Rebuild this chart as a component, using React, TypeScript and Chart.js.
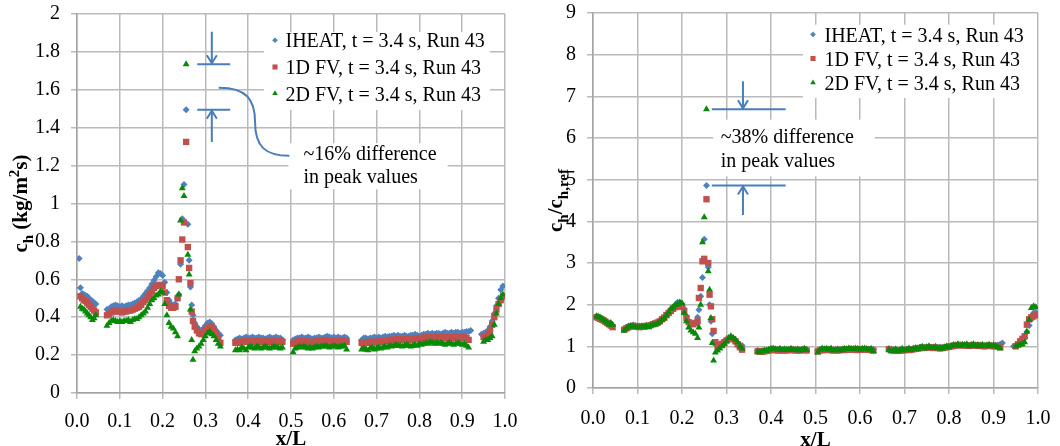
import React, { useEffect, useRef } from 'react';
import { Chart, registerables } from 'chart.js';

Chart.register(...registerables);

// ---------------- DATA ----------------
// x/L positions shared by all series
const X_POS: number[] = [
  0.005, 0.008, 0.012, 0.016, 0.02, 0.024, 0.028, 0.032, 0.036, 0.04, 0.044,
  0.07, 0.075, 0.08, 0.085, 0.09, 0.095, 0.1, 0.105, 0.11, 0.115, 0.12, 0.125, 0.13, 0.135, 0.14, 0.145, 0.15, 0.155, 0.16, 0.165, 0.17, 0.175, 0.18, 0.185, 0.19, 0.195, 0.2, 0.205, 0.21, 0.215, 0.22, 0.225, 0.23,
  0.235, 0.238, 0.242, 0.246, 0.25, 0.255, 0.259, 0.262, 0.265, 0.268, 0.271, 0.275,
  0.28, 0.285, 0.29, 0.295, 0.3, 0.305, 0.31, 0.315, 0.32, 0.325, 0.33, 0.335,
  0.37, 0.375, 0.38, 0.385, 0.39, 0.395, 0.4, 0.405, 0.41, 0.415, 0.42, 0.425, 0.43, 0.435, 0.44, 0.445, 0.45, 0.455, 0.46, 0.465, 0.47, 0.475, 0.48,
  0.505, 0.51, 0.515, 0.52, 0.525, 0.53, 0.535, 0.54, 0.545, 0.55, 0.555, 0.56, 0.565, 0.57, 0.575, 0.58, 0.585, 0.59, 0.595, 0.6, 0.605, 0.61, 0.615, 0.62, 0.625, 0.63,
  0.665, 0.67, 0.675, 0.68, 0.685, 0.69, 0.695, 0.7, 0.705, 0.71,
  0.715, 0.72, 0.725, 0.73, 0.735, 0.74, 0.745, 0.75, 0.755, 0.76,
  0.765, 0.77, 0.775, 0.78, 0.785, 0.79, 0.795, 0.8, 0.805, 0.81,
  0.815, 0.82, 0.825, 0.83, 0.835, 0.84, 0.845, 0.85, 0.855, 0.86,
  0.865, 0.87, 0.875, 0.88, 0.885, 0.89, 0.895, 0.9, 0.905, 0.91,
  0.915, 0.92,
  0.945, 0.95, 0.955, 0.96, 0.965, 0.97, 0.975, 0.98, 0.985, 0.99, 0.995,
];

// Left chart: c_h (kg/m^2 s)
const IHEAT_CH: (number | null)[] = [
  0.71, 0.555, 0.525, 0.52, 0.515, 0.51, 0.5, 0.49, 0.485, 0.475, 0.47,
  0.44, 0.445, 0.455, 0.46, 0.465, 0.46, 0.455, 0.46, 0.455, 0.46, 0.465, 0.465, 0.47, 0.475, 0.48, 0.49, 0.495, 0.51, 0.525, 0.54, 0.555, 0.575, 0.595, 0.615, 0.635, 0.63, 0.62, 0.585, 0.53, 0.49, 0.47, 0.465, 0.47,
  0.5, 0.52, 0.68, 0.92, 1.1, 1.495, 0.89, 0.7, 0.56, 0.465, 0.41, 0.37,
  0.35, 0.335, 0.33, 0.34, 0.355, 0.37, 0.375, 0.365, 0.35, 0.33, 0.315, 0.305,
  0.28, 0.285, 0.29, 0.285, 0.29, 0.295, 0.29, 0.29, 0.295, 0.29, 0.29, 0.295, 0.29, 0.29, 0.285, 0.29, 0.295, 0.29, 0.29, 0.295, 0.29, 0.29, 0.28,
  0.28, 0.285, 0.29, 0.29, 0.295, 0.29, 0.29, 0.295, 0.29, 0.285, 0.29, 0.29, 0.295, 0.29, 0.29, 0.295, 0.3, 0.295, 0.29, 0.295, 0.29, 0.295, 0.29, 0.29, 0.295, 0.29,
  0.28, 0.29, 0.29, 0.285, 0.29, 0.29, 0.295, 0.29, 0.295, 0.29,
  0.295, 0.3, 0.295, 0.3, 0.3, 0.305, 0.3, 0.305, 0.3, 0.3,
  0.305, 0.3, 0.3, 0.305, 0.305, 0.31, 0.305, 0.3, 0.305, 0.31,
  0.31, 0.315, 0.31, 0.315, 0.31, 0.315, 0.315, 0.31, 0.315, 0.32,
  0.315, 0.315, 0.32, 0.315, 0.32, 0.32, 0.315, 0.32, 0.32, 0.325,
  0.325, 0.33,
  0.31, 0.315, 0.32, 0.33, 0.35, 0.38, 0.42, 0.46, 0.5, 0.545, 0.565,
];

const FV1D_CH: (number | null)[] = [
  null, 0.51, 0.5, 0.49, 0.485, 0.475, 0.465, 0.455, 0.445, 0.435, 0.425,
  0.41, 0.415, 0.425, 0.43, 0.435, 0.43, 0.43, 0.425, 0.43, 0.43, 0.435, 0.435, 0.44, 0.445, 0.45, 0.455, 0.465, 0.48, 0.49, 0.505, 0.52, 0.535, 0.555, 0.565, 0.57, 0.57, 0.565, 0.53, 0.49, 0.46, 0.45, 0.45, 0.455,
  0.5, 0.6, 0.7, 0.81, 0.9, 1.325, 0.77, 0.66, 0.58, 0.43, 0.38, 0.35,
  0.33, 0.315, 0.31, 0.315, 0.33, 0.345, 0.35, 0.345, 0.33, 0.31, 0.29, 0.265,
  0.265, 0.27, 0.265, 0.27, 0.275, 0.27, 0.27, 0.275, 0.27, 0.275, 0.27, 0.27, 0.275, 0.27, 0.27, 0.275, 0.27, 0.27, 0.275, 0.27, 0.27, 0.275, 0.27,
  0.26, 0.265, 0.27, 0.275, 0.27, 0.27, 0.275, 0.27, 0.265, 0.265, 0.27, 0.275, 0.27, 0.27, 0.275, 0.28, 0.275, 0.27, 0.275, 0.27, 0.275, 0.27, 0.275, 0.27, 0.275, 0.27,
  0.265, 0.26, 0.265, 0.27, 0.265, 0.27, 0.27, 0.265, 0.27, 0.275,
  0.27, 0.275, 0.28, 0.275, 0.28, 0.28, 0.285, 0.28, 0.28, 0.285,
  0.28, 0.285, 0.28, 0.285, 0.28, 0.285, 0.29, 0.285, 0.29, 0.29,
  0.295, 0.29, 0.295, 0.29, 0.295, 0.29, 0.295, 0.295, 0.29, 0.295,
  0.29, 0.295, 0.29, 0.295, 0.29, 0.29, 0.295, 0.29, 0.295, 0.29,
  0.28, null,
  null, 0.295, 0.3, 0.31, 0.33, 0.36, 0.4, 0.44, 0.47, 0.49, 0.51,
];

const FV2D_CH: (number | null)[] = [
  null, 0.455, 0.445, 0.44, 0.43, 0.42, 0.41, 0.4, 0.385, 0.395, 0.41,
  0.355, 0.37, 0.38, 0.385, 0.38, 0.375, 0.38, 0.375, 0.38, 0.38, 0.385, 0.375, 0.385, 0.39, 0.39, 0.4, 0.41, 0.42, 0.43, 0.45, 0.47, 0.49, 0.5, 0.515, 0.52, 0.535, 0.53, 0.47, 0.41, 0.37, 0.35, 0.34, 0.32,
  0.3, 0.52, 0.91, 1.08, 1.04, 1.735, 0.73, 0.625, 0.44, 0.28, 0.175, 0.22,
  0.235, 0.245, 0.26, 0.28, 0.3, 0.315, 0.325, 0.31, 0.3, 0.28, 0.26, 0.245,
  0.225, 0.23, 0.225, 0.24, 0.235, 0.225, 0.24, 0.245, 0.24, 0.235, 0.245, 0.24, 0.235, 0.24, 0.245, 0.24, 0.235, 0.24, 0.245, 0.24, 0.24, 0.235, 0.24,
  0.215, 0.235, 0.24, 0.245, 0.24, 0.245, 0.24, 0.235, 0.24, 0.235, 0.24, 0.245, 0.24, 0.245, 0.245, 0.25, 0.245, 0.24, 0.245, 0.25, 0.245, 0.24, 0.245, 0.245, 0.25, 0.23,
  0.23, 0.235, 0.23, 0.225, 0.235, 0.24, 0.23, 0.235, 0.24, 0.235,
  0.24, 0.245, 0.24, 0.25, 0.245, 0.25, 0.255, 0.25, 0.25, 0.245,
  0.25, 0.255, 0.25, 0.245, 0.25, 0.255, 0.25, 0.26, 0.255, 0.26,
  0.265, 0.26, 0.27, 0.265, 0.26, 0.265, 0.26, 0.265, 0.26, 0.255,
  0.26, 0.265, 0.26, 0.255, 0.26, 0.265, 0.26, 0.255, 0.26, 0.25,
  0.24, null,
  null, 0.27, 0.28, 0.28, 0.29, 0.3, 0.36, 0.42, 0.47, 0.5, 0.52,
];

// Right chart: c_h / c_h,ref
const IHEAT_RATIO: (number | null)[] = [
  null, 1.72, 1.7, 1.68, 1.66, 1.63, 1.6, 1.58, 1.55, 1.52, 1.5,
  1.42, 1.45, 1.48, 1.49, 1.51, 1.5, 1.48, 1.49, 1.47, 1.48, 1.5, 1.5, 1.52, 1.54, 1.56, 1.58, 1.61, 1.66, 1.71, 1.76, 1.82, 1.88, 1.94, 2.0, 2.06, 2.05, 2.02, 1.9, 1.72, 1.6, 1.55, 1.54, 1.58,
  1.7, 1.88, 2.2, 2.65, 3.57, 4.86, 2.9, 2.0, 1.6, 1.3, 1.1, 1.05,
  1.02, 1.05, 1.08, 1.12, 1.16, 1.2, 1.22, 1.18, 1.13, 1.08, 1.03, 1.02,
  0.9, 0.89, 0.88, 0.89, 0.9, 0.91, 0.92, 0.93, 0.92, 0.93, 0.92, 0.91, 0.92, 0.91, 0.92, 0.93, 0.92, 0.91, 0.92, 0.91, 0.92, 0.93, 0.91,
  0.9, 0.91, 0.92, 0.93, 0.92, 0.93, 0.92, 0.91, 0.92, 0.91, 0.92, 0.93, 0.92, 0.93, 0.94, 0.93, 0.94, 0.93, 0.92, 0.93, 0.94, 0.93, 0.94, 0.93, 0.92, 0.93,
  0.95, 0.93, 0.92, 0.92, 0.91, 0.92, 0.91, 0.92, 0.93, 0.92,
  0.93, 0.94, 0.95, 0.96, 0.97, 0.98, 0.97, 0.98, 0.99, 0.98,
  0.97, 0.98, 0.97, 0.96, 0.97, 0.98, 0.99, 1.0, 1.01, 1.02,
  1.03, 1.04, 1.04, 1.03, 1.04, 1.03, 1.02, 1.03, 1.04, 1.03,
  1.02, 1.03, 1.02, 1.01, 1.02, 1.03, 1.02, 1.01, 1.02, 1.03,
  1.05, 1.08,
  1.0, 1.01, 1.03, 1.06, 1.1, 1.2, 1.35, 1.5, 1.65, 1.8, 1.82,
];

const FV1D_RATIO: (number | null)[] = [
  null, 1.7, 1.68, 1.66, 1.64, 1.62, 1.59, 1.56, 1.53, 1.5, 1.46,
  1.4, 1.43, 1.46, 1.48, 1.49, 1.48, 1.47, 1.46, 1.47, 1.47, 1.49, 1.49, 1.51, 1.53, 1.55, 1.57, 1.6, 1.65, 1.69, 1.75, 1.8, 1.85, 1.9, 1.94, 1.96, 1.97, 1.95, 1.83, 1.68, 1.58, 1.54, 1.53, 1.56,
  1.6, 2.16, 2.4, 3.04, 3.1, 4.53, 3.0, 2.24, 1.96, 1.65, 1.37, 1.1,
  1.0, 1.03, 1.06, 1.1, 1.14, 1.18, 1.2, 1.17, 1.12, 1.05, 0.98, 0.92,
  0.88, 0.87, 0.87, 0.88, 0.89, 0.9, 0.91, 0.92, 0.91, 0.9, 0.91, 0.9, 0.91, 0.9, 0.91, 0.92, 0.91, 0.9, 0.91, 0.9, 0.91, 0.92, 0.9,
  0.88, 0.9, 0.91, 0.92, 0.91, 0.92, 0.91, 0.9, 0.91, 0.9, 0.91, 0.92, 0.91, 0.92, 0.93, 0.92, 0.93, 0.92, 0.91, 0.92, 0.93, 0.92, 0.93, 0.92, 0.91, 0.9,
  0.93, 0.91, 0.9, 0.9, 0.89, 0.9, 0.9, 0.91, 0.92, 0.91,
  0.92, 0.93, 0.94, 0.95, 0.96, 0.97, 0.96, 0.97, 0.98, 0.97,
  0.96, 0.97, 0.96, 0.95, 0.96, 0.97, 0.98, 0.99, 1.0, 1.01,
  1.02, 1.03, 1.03, 1.02, 1.03, 1.02, 1.01, 1.02, 1.03, 1.02,
  1.01, 1.02, 1.01, 1.0, 1.01, 1.02, 1.01, 1.0, 1.01, 1.0,
  0.98, null,
  null, 1.0, 1.05, 1.12, 1.18, 1.24, 1.52, 1.65, 1.7, 1.72, 1.75,
];

const FV2D_RATIO: (number | null)[] = [
  null, 1.72, 1.71, 1.69, 1.66, 1.63, 1.6, 1.57, 1.52, 1.56, 1.52,
  1.38, 1.43, 1.47, 1.49, 1.48, 1.46, 1.47, 1.46, 1.48, 1.47, 1.49, 1.46, 1.5, 1.51, 1.52, 1.55, 1.59, 1.63, 1.67, 1.74, 1.82, 1.9, 1.94, 1.99, 2.01, 2.05, 2.03, 1.8, 1.6, 1.45, 1.38, 1.34, 1.3,
  1.2, 1.45, 2.0, 3.5, 4.1, 6.69, 2.8, 2.36, 1.68, 1.08, 0.66, 0.85,
  0.9, 0.95, 1.0, 1.05, 1.12, 1.2, 1.24, 1.2, 1.16, 1.1, 1.0, 0.95,
  0.87, 0.86, 0.88, 0.9, 0.89, 0.92, 0.94, 0.95, 0.93, 0.92, 0.94, 0.91, 0.93, 0.92, 0.91, 0.94, 0.92, 0.91, 0.93, 0.9, 0.92, 0.94, 0.91,
  0.85, 0.92, 0.95, 0.93, 0.94, 0.92, 0.95, 0.9, 0.91, 0.93, 0.9, 0.92, 0.94, 0.93, 0.95, 0.94, 0.93, 0.95, 0.94, 0.92, 0.94, 0.95, 0.93, 0.92, 0.94, 0.88,
  0.92, 0.88, 0.9, 0.93, 0.88, 0.91, 0.94, 0.9, 0.92, 0.95,
  0.91, 0.94, 0.96, 0.93, 0.97, 0.99, 0.95, 0.98, 1.0, 0.96,
  0.97, 0.99, 0.95, 0.97, 0.94, 0.98, 1.0, 0.97, 1.01, 1.03,
  1.02, 1.05, 1.01, 1.04, 1.02, 1.05, 1.0, 1.03, 1.05, 1.01,
  1.03, 1.0, 1.04, 1.01, 1.02, 1.04, 1.0, 1.03, 1.01, 0.98,
  0.95, null,
  null, 1.0, 1.02, 1.04, 1.05, 1.1, 1.35, 1.64, 1.92, 1.96, 1.94,
];

const SERIES_LABELS = ['IHEAT, t = 3.4 s, Run 43', '1D FV, t = 3.4 s, Run 43', '2D FV, t = 3.4 s, Run 43'];
const X_TICK_LABELS = ['0.0', '0.1', '0.2', '0.3', '0.4', '0.5', '0.6', '0.7', '0.8', '0.9', '1.0'];
const Y_TICKS_CH = ['0', '0.2', '0.4', '0.6', '0.8', '1', '1.2', '1.4', '1.6', '1.8', '2'];
const Y_TICKS_RATIO = ['0', '1', '2', '3', '4', '5', '6', '7', '8', '9'];
const NOTE_CH = ['~16% difference', 'in peak values'];
const NOTE_RATIO = ['~38% difference', 'in peak values'];

// ---------------- STYLE ----------------
const FONT = '"Liberation Serif", "Times New Roman", serif';
const COLORS = ['#4f81bd', '#c0504d', '#078a07'];
const SHAPES = ['rectRot', 'rect', 'triangle'];
const RADII = [3.5, 4.5, 4];
const GRID = '#bababa';
const AXIS = '#a3a3a3';
const ANNOT = '#4a7ebb';

type Seg = { t: string; k: 'n' | 'sub' | 'sup' };

type Overlay = {
  legend: { dxFromRight: number; dyFromTop: number; w: number; h: number; markerDx: number; textDx: number; rows: number[] };
  lineX: [number, number];
  arrowX: number;
  topFrom: number;
  bottomFrom: number;
  box: [number, number, number, number];
  textX: number;
  textY: [number, number];
  note: string[];
  bracket?: number[][];
  yTitle: Seg[];
  yTitleX: number;
  xTitleY: number;
};

function maxOf(a: (number | null)[]) {
  let m = -Infinity;
  for (const v of a) if (v !== null && v > m) m = v;
  return m;
}

function drawMarker(ctx: CanvasRenderingContext2D, shape: string, x: number, y: number, r: number, color: string) {
  ctx.save();
  ctx.fillStyle = color;
  ctx.beginPath();
  if (shape === 'rectRot') {
    ctx.moveTo(x - r, y);
    ctx.lineTo(x, y - r);
    ctx.lineTo(x + r, y);
    ctx.lineTo(x, y + r);
  } else if (shape === 'rect') {
    const s = r * Math.SQRT1_2;
    ctx.rect(x - s, y - s, 2 * s, 2 * s);
  } else {
    let a = 0;
    ctx.moveTo(x + Math.sin(a) * r, y - Math.cos(a) * r);
    a += (2 * Math.PI) / 3;
    ctx.lineTo(x + Math.sin(a) * r, y - Math.cos(a) * r);
    a += (2 * Math.PI) / 3;
    ctx.lineTo(x + Math.sin(a) * r, y - Math.cos(a) * r);
  }
  ctx.closePath();
  ctx.fill();
  ctx.restore();
}

function drawRich(ctx: CanvasRenderingContext2D, segs: Seg[], cx: number, cy: number, size: number, rotate: boolean) {
  const big = `bold ${size}px ${FONT}`;
  const small = `bold ${Math.round(size * 0.72)}px ${FONT}`;
  const widths = segs.map((s) => {
    ctx.font = s.k === 'n' ? big : small;
    return ctx.measureText(s.t).width;
  });
  const total = widths.reduce((p, c) => p + c, 0);
  ctx.save();
  ctx.translate(cx, cy);
  if (rotate) ctx.rotate(-Math.PI / 2);
  ctx.fillStyle = '#000';
  ctx.textAlign = 'left';
  ctx.textBaseline = 'alphabetic';
  let x = -total / 2;
  const base = size * 0.32;
  segs.forEach((s, i) => {
    ctx.font = s.k === 'n' ? big : small;
    const dy = s.k === 'sub' ? size * 0.28 : s.k === 'sup' ? -size * 0.38 : 0;
    ctx.fillText(s.t, x, base + dy);
    x += widths[i];
  });
  ctx.restore();
}

function makeOverlay(o: Overlay, topSeries: (number | null)[], bottomSeries: (number | null)[]) {
  return {
    id: 'overlay',
    beforeDatasetsDraw(chart: any) {
      const { ctx, chartArea: a, scales } = chart;
      const xs = scales.x, ys = scales.y;
      ctx.save();
      ctx.fillStyle = '#ffffff';
      const L = o.legend;
      ctx.fillRect(a.right - L.dxFromRight, a.top + L.dyFromTop, L.w, L.h);
      const px0 = xs.getPixelForValue(o.box[0]);
      const px1 = xs.getPixelForValue(o.box[1]);
      const py0 = ys.getPixelForValue(o.box[2]);
      const py1 = ys.getPixelForValue(o.box[3]);
      ctx.fillRect(px0, py0, px1 - px0, py1 - py0);
      ctx.restore();
    },
    afterDatasetsDraw(chart: any) {
      const { ctx, chartArea: a, scales } = chart;
      const xs = scales.x, ys = scales.y;
      const L = o.legend;
      const lx = a.right - L.dxFromRight;
      const ly = a.top + L.dyFromTop;
      ctx.save();
      ctx.font = `20px ${FONT}`;
      ctx.fillStyle = '#000';
      ctx.textAlign = 'left';
      ctx.textBaseline = 'middle';
      SERIES_LABELS.forEach((lab, i) => {
        const ry = ly + L.rows[i];
        drawMarker(ctx, SHAPES[i], lx + L.markerDx, ry - 2, RADII[i] * 0.8, COLORS[i]);
        ctx.fillStyle = '#000';
        ctx.fillText(lab, lx + L.textDx, ry);
      });

      // annotation lines and arrows
      ctx.strokeStyle = ANNOT;
      ctx.lineWidth = 2;
      ctx.lineCap = 'butt';
      const x0 = xs.getPixelForValue(o.lineX[0]);
      const x1 = xs.getPixelForValue(o.lineX[1]);
      const ax = xs.getPixelForValue(o.arrowX);
      const yTop = ys.getPixelForValue(maxOf(topSeries));
      const yBot = ys.getPixelForValue(maxOf(bottomSeries));
      const yTopFrom = ys.getPixelForValue(o.topFrom);
      const yBotFrom = ys.getPixelForValue(o.bottomFrom);
      ctx.beginPath();
      ctx.moveTo(x0, yTop); ctx.lineTo(x1, yTop);
      ctx.moveTo(x0, yBot); ctx.lineTo(x1, yBot);
      ctx.moveTo(ax, yTopFrom); ctx.lineTo(ax, yTop - 1);
      ctx.moveTo(ax, yBotFrom); ctx.lineTo(ax, yBot + 1);
      ctx.stroke();
      ctx.beginPath();
      ctx.moveTo(ax - 5, yTop - 9); ctx.lineTo(ax, yTop - 1); ctx.lineTo(ax + 5, yTop - 9);
      ctx.moveTo(ax - 5, yBot + 9); ctx.lineTo(ax, yBot + 1); ctx.lineTo(ax + 5, yBot + 9);
      ctx.stroke();

      if (o.bracket) {
        const p = o.bracket.map(([bx, by]) => [xs.getPixelForValue(bx), ys.getPixelForValue(by)]);
        ctx.beginPath();
        ctx.moveTo(p[0][0], p[0][1]);
        ctx.bezierCurveTo(p[1][0], p[1][1], p[2][0], p[2][1], p[3][0], p[3][1]);
        ctx.bezierCurveTo(p[4][0], p[4][1], p[5][0], p[5][1], p[6][0], p[6][1]);
        ctx.stroke();
      }

      ctx.fillStyle = '#000';
      ctx.font = `20px ${FONT}`;
      ctx.textBaseline = 'middle';
      const tx = xs.getPixelForValue(o.textX);
      o.note.forEach((line, i) => {
        ctx.fillText(line, tx, ys.getPixelForValue(o.textY[i]));
      });
      ctx.restore();
    },
    afterDraw(chart: any) {
      const { ctx, chartArea: a } = chart;
      drawRich(ctx, o.yTitle, o.yTitleX, (a.top + a.bottom) / 2, 21, true);
      drawRich(ctx, [{ t: 'x/L', k: 'n' }], (a.left + a.right) / 2, o.xTitleY, 21, false);
    },
  };
}

function makeConfig(
  series: (number | null)[][],
  yTicks: string[],
  yMax: number,
  yStep: number,
  pad: { top: number; right: number },
  yWidth: number,
  xHeight: number,
  xPad: number,
  overlay: any
) {
  return {
    type: 'scatter',
    data: {
      datasets: series.map((ys, i) => ({
        label: SERIES_LABELS[i],
        data: X_POS.map((x, j) => ({ x, y: ys[j] })).filter((p) => p.y !== null),
        pointStyle: SHAPES[i],
        pointRadius: RADII[i],
        pointHoverRadius: RADII[i],
        pointBackgroundColor: COLORS[i],
        pointBorderColor: COLORS[i],
        pointBorderWidth: 0,
        backgroundColor: COLORS[i],
        borderColor: COLORS[i],
        borderWidth: 0,
        showLine: false,
        order: 2 - i,
      })),
    },
    options: {
      responsive: false,
      animation: false,
      devicePixelRatio: 1,
      events: [],
      layout: { padding: { top: pad.top, right: pad.right, left: 0, bottom: 0 } },
      plugins: { legend: { display: false }, tooltip: { enabled: false }, title: { display: false } },
      scales: {
        x: {
          type: 'linear',
          min: 0,
          max: 1,
          afterFit: (s: any) => {
            s.height = xHeight;
            s.paddingLeft = 0;
            s.paddingRight = 0;
          },
          ticks: {
            stepSize: 0.1,
            autoSkip: false,
            maxRotation: 0,
            padding: xPad,
            color: '#000',
            font: { family: FONT, size: 20 },
            callback: (_v: any, i: number) => X_TICK_LABELS[i],
          },
          grid: { color: GRID, lineWidth: 1.5, tickLength: 6 },
          border: { color: AXIS, width: 1.5 },
        },
        y: {
          type: 'linear',
          min: 0,
          max: yMax,
          afterFit: (s: any) => {
            s.width = yWidth;
            s.paddingTop = 0;
            s.paddingBottom = 0;
          },
          ticks: {
            stepSize: yStep,
            autoSkip: false,
            padding: 11,
            color: '#000',
            font: { family: FONT, size: 20 },
            callback: (_v: any, i: number) => yTicks[i],
          },
          grid: { color: GRID, lineWidth: 1.5, tickLength: 6 },
          border: { color: AXIS, width: 1.5 },
        },
      },
    },
    plugins: [overlay],
  };
}

const LEFT_OVERLAY: Overlay = {
  legend: { dxFromRight: 241, dyFromTop: 18, w: 226, h: 78, markerDx: 11, textDx: 21.5, rows: [10.2, 37, 63.5] },
  lineX: [0.281, 0.358],
  arrowX: 0.315,
  topFrom: 1.906,
  bottomFrom: 1.324,
  box: [0.494, 0.866, 1.318, 1.075],
  textX: 0.529,
  textY: [1.258, 1.135],
  note: NOTE_CH,
  bracket: [[0.331, 1.611], [0.395, 1.612], [0.416, 1.55], [0.416, 1.43], [0.416, 1.30], [0.44, 1.252], [0.496, 1.252]],
  yTitle: [{ t: 'c', k: 'n' }, { t: 'h', k: 'sub' }, { t: ' (kg/m', k: 'n' }, { t: '2', k: 'sup' }, { t: 's)', k: 'n' }],
  yTitleX: 20,
  xTitleY: 438,
};

const RIGHT_OVERLAY: Overlay = {
  legend: { dxFromRight: 235, dyFromTop: 11.7, w: 234, h: 73.3, markerDx: 10, textDx: 21.5, rows: [11.7, 35.8, 60] },
  lineX: [0.267, 0.433],
  arrowX: 0.337,
  topFrom: 7.36,
  bottomFrom: 4.15,
  box: [0.27, 0.633, 6.44, 5.08],
  textX: 0.287,
  textY: [6.0, 5.42],
  note: NOTE_RATIO,
  yTitle: [{ t: 'c', k: 'n' }, { t: 'h', k: 'sub' }, { t: '/c', k: 'n' }, { t: 'h,ref', k: 'sub' }],
  yTitleX: 25,
  xTitleY: 439,
};

function ChartBox({ make, left }: { make: () => any; left: number }) {
  const ref = useRef<HTMLCanvasElement>(null);
  useEffect(() => {
    const chart = new Chart(ref.current as HTMLCanvasElement, make());
    return () => chart.destroy();
  }, []);
  return (
    <canvas
      ref={ref}
      width={530}
      height={446}
      style={{ position: 'absolute', left, top: 0, width: 530, height: 446 }}
    />
  );
}

export default function App() {
  return (
    <div style={{ position: 'absolute', left: 0, top: 0, width: 1060, height: 446, background: '#ffffff', overflow: 'hidden' }}>
      <ChartBox
        left={0}
        make={() =>
          makeConfig([IHEAT_CH, FV1D_CH, FV2D_CH], Y_TICKS_CH, 2, 0.2, { top: 14, right: 25 }, 77, 53, 11,
            makeOverlay(LEFT_OVERLAY, FV2D_CH, IHEAT_CH))
        }
      />
      <ChartBox
        left={530}
        make={() =>
          makeConfig([IHEAT_RATIO, FV1D_RATIO, FV2D_RATIO], Y_TICKS_RATIO, 9, 1, { top: 13, right: 22 }, 63, 58, 13,
            makeOverlay(RIGHT_OVERLAY, FV2D_RATIO, IHEAT_RATIO))
        }
      />
    </div>
  );
}
